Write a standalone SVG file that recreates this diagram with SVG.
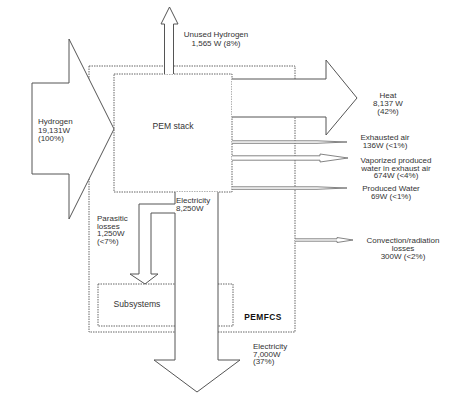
<svg xmlns="http://www.w3.org/2000/svg" width="456" height="404" viewBox="0 0 456 404">
<style>
.dot{fill:none;stroke:#666;stroke-width:1;stroke-dasharray:1.5 1}
.arr{fill:#fff;stroke:#555;stroke-width:1;stroke-linejoin:miter}
.thin{fill:#fff;stroke:#666;stroke-width:0.8}
text{font-family:"Liberation Sans",Arial,sans-serif;font-size:8px;fill:#333}
.m{text-anchor:middle}
.big{font-size:8.6px}
.b{font-weight:bold;font-size:8.4px;fill:#111;letter-spacing:0.4px}
</style>
<rect width="456" height="404" fill="#fff"/>
<g id="pemfcs">
<rect class="dot" x="89" y="66" width="206" height="266"/>
<text class="b m" x="263" y="320">PEMFCS</text>
</g>
<g id="pem-stack">
<rect class="dot" x="114" y="74" width="118" height="118"/>
<text class="big m" x="173" y="129">PEM stack</text>
</g>
<g id="subsystems">
<rect class="dot" x="98" y="284" width="135" height="42"/>
<text class="big m" x="137" y="307">Subsystems</text>
</g>
<g id="connectors">
<polygon class="arr" points="32,83 69,83 69,39 114,129 69,219 69,174 32,174"/>
<path class="arr" d="M164.5,74 V24 H161 L169.5,7 L178,24 H173.5 V74"/>
<path class="arr" d="M232,79 H326 V60 L357,98 L326,135 V117 H232"/>
<path class="thin" d="M232,140.8 H317 L347,142 L317,143.3 H232"/>
<path class="thin" d="M232,155.8 H320 V154 L348,158 L320,162 V160.2 H232"/>
<path class="thin" d="M232,186.8 H317 L347,188 L317,189.3 H232"/>
<path class="thin" d="M295,238.8 H337 V237.5 L353,240 L337,242.5 V241.2 H295"/>
<path class="arr" d="M175,192 V204 H139 V274 H130 L145,284 L158,274 H151 V213 H175 V360 H154 L197,392 L240,360 H218 V192"/>
</g>
<g id="labels">
<text x="38" y="124">Hydrogen</text>
<text x="38" y="132.5">19,131W</text>
<text x="38" y="141">(100%)</text>
<text class="m" x="216" y="37">Unused Hydrogen</text>
<text class="m" x="216" y="46">1,565 W (8%)</text>
<text class="m" x="388" y="98">Heat</text>
<text class="m" x="388" y="106">8,137 W</text>
<text class="m" x="388" y="114">(42%)</text>
<text class="m" x="385" y="140">Exhausted air</text>
<text class="m" x="385" y="148">136W (&lt;1%)</text>
<text class="m" x="396" y="163">Vaporized produced</text>
<text class="m" x="396" y="170.5">water in exhaust air</text>
<text class="m" x="396" y="178">674W (&lt;4%)</text>
<text class="m" x="391" y="191">Produced Water</text>
<text class="m" x="391" y="199">69W (&lt;1%)</text>
<text class="m" x="403" y="243">Convection/radiation</text>
<text class="m" x="403" y="251">losses</text>
<text class="m" x="403" y="259">300W (&lt;2%)</text>
<text x="176" y="203">Electricity</text>
<text x="176" y="211">8,250W</text>
<text x="97" y="221" fill="#4a3540">Parasitic</text>
<text x="97" y="228.5">losses</text>
<text x="97" y="236">1,250W</text>
<text x="97" y="244">(&lt;7%)</text>
<text x="253" y="349">Electricity</text>
<text x="253" y="356.5">7,000W</text>
<text x="253" y="364">(37%)</text>
</g>
</svg>
